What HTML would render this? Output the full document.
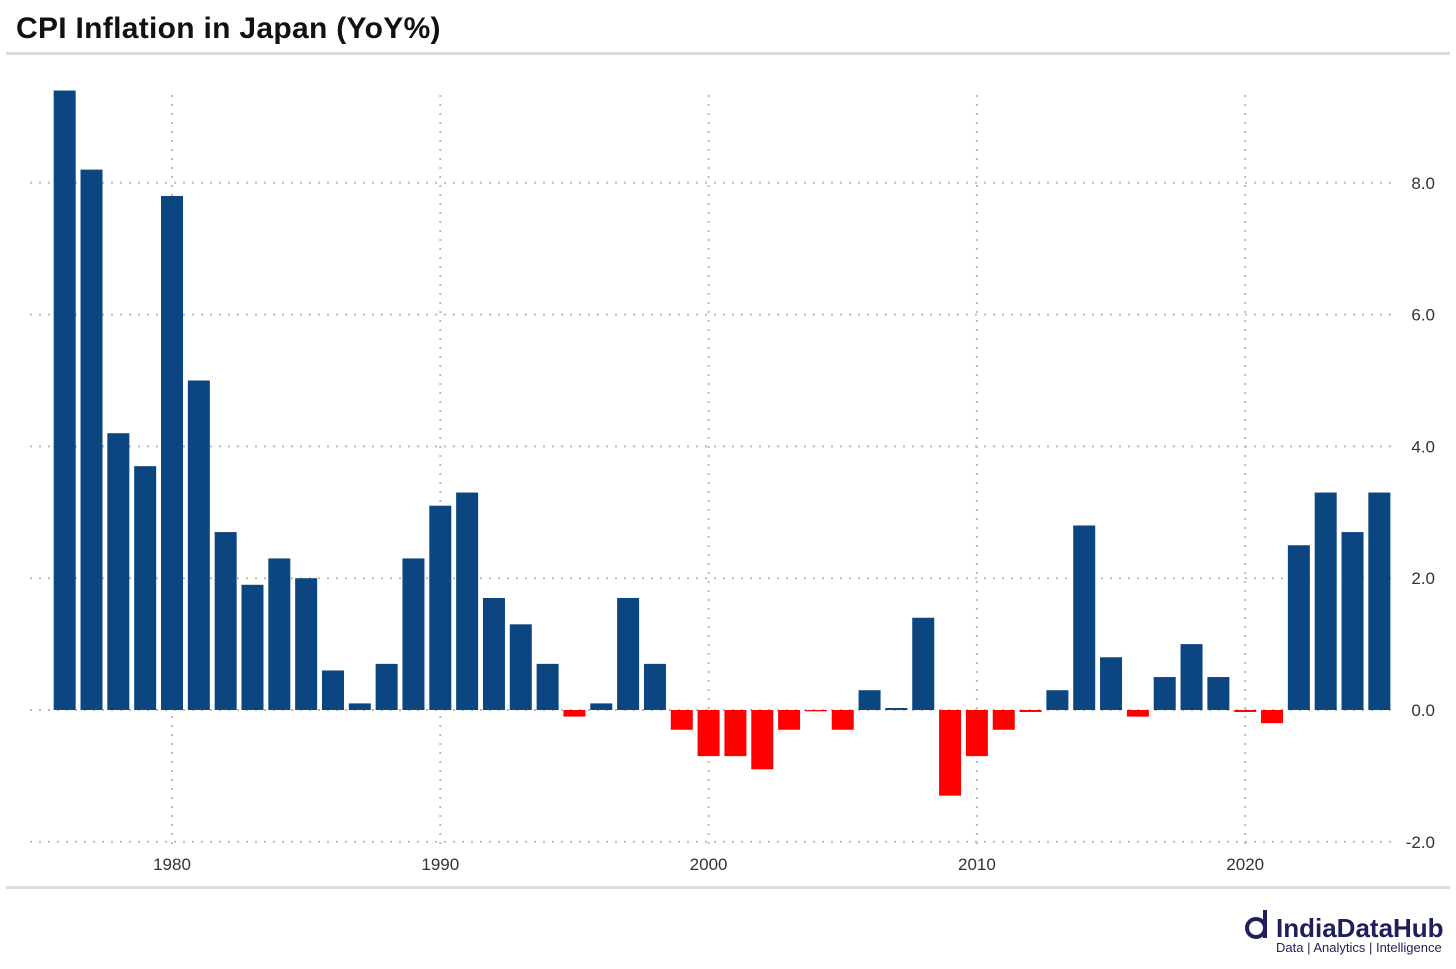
<!DOCTYPE html>
<html><head><meta charset="utf-8">
<style>
html,body{margin:0;padding:0;background:#fff;}
body{width:1456px;height:964px;overflow:hidden;font-family:"Liberation Sans",sans-serif;}
</style></head>
<body>
<svg width="1456" height="964" xmlns="http://www.w3.org/2000/svg">
<text x="16" y="38" font-size="30" font-weight="bold" letter-spacing="0.3" fill="#111">CPI Inflation in Japan (YoY%)</text>
<rect x="6" y="52" width="1444" height="3" fill="#dcdcdc"/>
<rect x="6" y="886" width="1444" height="3" fill="#dcdcdc"/>
<g id="grid"></g>
<g id="bars"></g>
<g id="axes"></g>
<g>
<circle cx="1256" cy="928" r="9" fill="none" stroke="#1e1f5c" stroke-width="4"/>
<line x1="1265" y1="910" x2="1265" y2="938" stroke="#1e1f5c" stroke-width="4"/>
<text x="1276" y="937" font-size="26" font-weight="bold" fill="#1e1f5c">IndiaDataHub</text>
<text x="1276" y="952" font-size="13" fill="#1e1f5c">Data | Analytics | Intelligence</text>
</g>
</svg>
<script>
const years = [];
for (let y = 1976; y <= 2025; y++) years.push(y);
const values = [9.4,8.2,4.2,3.7,7.8,5.0,2.7,1.9,2.3,2.0,0.6,0.1,0.7,2.3,3.1,3.3,1.7,1.3,0.7,-0.1,0.1,1.7,0.7,-0.3,-0.7,-0.7,-0.9,-0.3,-0.02,-0.3,0.3,0.03,1.4,-1.3,-0.7,-0.3,-0.03,0.3,2.8,0.8,-0.1,0.5,1.0,0.5,-0.03,-0.2,2.5,3.3,2.7,3.3];
const yTicks = [-2,0,2,4,6,8];
const yTickLabels = ["-2.0","0.0","2.0","4.0","6.0","8.0"];
const xTicks = [1980,1990,2000,2010,2020];

const NS = "http://www.w3.org/2000/svg";
const xS = y => 172 + (y - 1980) * 26.83;
const yS = v => 710 - v * 65.9;
const mk = (tag, attrs, parent) => { const e = document.createElementNS(NS, tag); for (const k in attrs) e.setAttribute(k, attrs[k]); parent.appendChild(e); return e; };
const grid = document.getElementById('grid'), bars = document.getElementById('bars'), axes = document.getElementById('axes');

yTicks.forEach((t, i) => {
  const l = mk('line', {x1: 30, x2: 1395, y1: yS(t), y2: yS(t), stroke: '#bbb', 'stroke-width': 2, 'stroke-dasharray': '2 7'}, grid);
  
  
  const tx = mk('text', {x: 1435, y: yS(t) + 6, 'text-anchor': 'end', 'font-size': 17, fill: '#333'}, axes);
  tx.textContent = yTickLabels[i];
  
  
});
xTicks.forEach(t => {
  const l = mk('line', {x1: xS(t), x2: xS(t), y1: 95, y2: 845, stroke: '#bbb', 'stroke-width': 2, 'stroke-dasharray': '2 7'}, grid);
  
  
  const tx = mk('text', {x: xS(t), y: 870, 'text-anchor': 'middle', 'font-size': 17, fill: '#333'}, axes);
  tx.textContent = t;
  
  
});
years.forEach((yr, i) => {
  const v = values[i];
  const y0 = yS(Math.max(v, 0)), y1 = yS(Math.min(v, 0));
  const r = mk('rect', {x: xS(yr) - 11, y: y0, width: 22, height: Math.max(y1 - y0, 1), fill: v >= 0 ? '#0b4680' : '#ff0000'}, bars);
  
  
});
</script>
</body></html>
